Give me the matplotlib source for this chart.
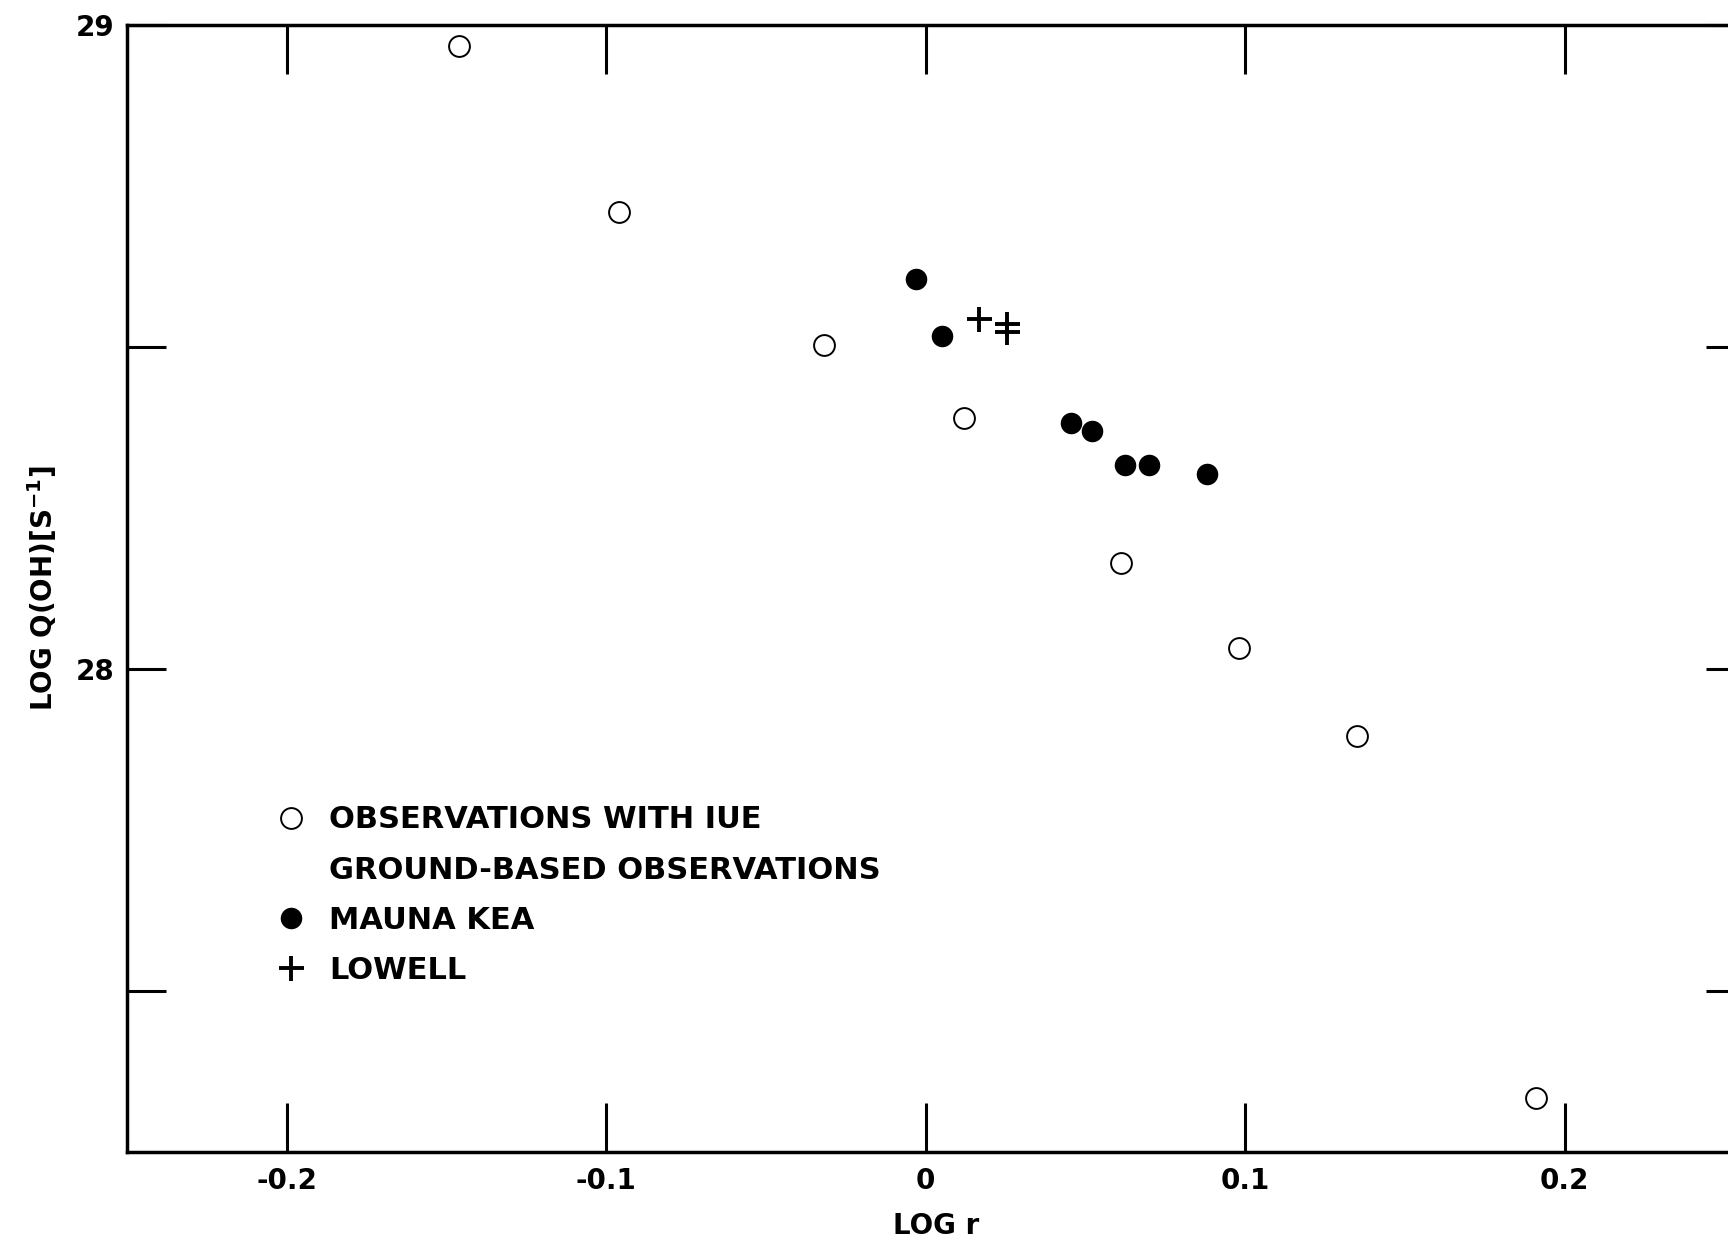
import matplotlib
matplotlib.use("Agg")

import matplotlib.pyplot as plt
from matplotlib.lines import Line2D

# log r vs log Q(OH)
iue_logr = [-0.146, -0.096, -0.032, 0.012, 0.061, 0.098, 0.135, 0.191]
iue_logq = [28.968, 28.709, 28.503, 28.390, 28.164, 28.033, 27.896, 27.334]

mk_logr = [-0.003, 0.005, 0.0455, 0.052, 0.0625, 0.070, 0.088]
mk_logq = [28.605, 28.517, 28.382, 28.370, 28.317, 28.317, 28.303]

lowell_logr = [0.0167, 0.0253, 0.0253]
lowell_logq = [28.544, 28.535, 28.524]

xticks = [-0.2, -0.1, 0.0, 0.1, 0.2]
xtick_labels = ["-0.2", "-0.1", "0", "0.1", "0.2"]
yticks = [27.5, 28.0, 28.5, 29.0]
ytick_labels = ["", "28", "", "29"]

legend_labels = [
    "OBSERVATIONS WITH IUE",
    "GROUND-BASED OBSERVATIONS",
    "MAUNA KEA",
    "LOWELL",
]


def main():
    plt.rcParams["font.family"] = ["DejaVu Sans"]
    plt.rcParams["font.weight"] = "bold"
    plt.rcParams["axes.labelweight"] = "bold"
    plt.rcParams["mathtext.default"] = "bf"
    plt.rcParams["axes.unicode_minus"] = False

    fig = plt.figure(figsize=(17.28, 12.4), dpi=100)
    # the right spine lies just past the edge of the scanned page
    ax = fig.add_axes([0.0735, 0.071, 0.9363, 0.9088])

    open_kw = dict(ls="none", marker="o", ms=15, mfc="white", mec="black", mew=1.4)
    fill_kw = dict(ls="none", marker="o", ms=15.5, mfc="black", mec="black", mew=0)
    plus_kw = dict(ls="none", marker="+", ms=18, mec="black", mew=2.8)

    ax.plot(iue_logr, iue_logq, **open_kw)
    ax.plot(mk_logr, mk_logq, **fill_kw)
    ax.plot(lowell_logr, lowell_logq, **plus_kw)

    ax.set_xlim(-0.25, 0.2564)
    ax.set_ylim(27.25, 29.0)
    ax.set_xticks(xticks)
    ax.set_xticklabels(xtick_labels)
    ax.set_yticks(yticks)
    ax.set_yticklabels(ytick_labels)

    for s in ax.spines.values():
        s.set_linewidth(2.5)
    ax.tick_params(direction="in", top=True, right=True, width=2.2,
                   labelsize=20, colors="black")
    ax.tick_params(axis="x", length=35, pad=11)
    ax.tick_params(axis="y", length=28, pad=9)

    ax.set_xlabel("LOG r", fontsize=20, labelpad=12)
    ax.set_ylabel(r"LOG Q(OH)$\left[\mathregular{S^{-1}}\right]$", fontsize=20, labelpad=12)

    handles = [
        Line2D([], [], **open_kw),
        Line2D([], [], ls="none"),
        Line2D([], [], **fill_kw),
        Line2D([], [], **plus_kw),
    ]
    ax.legend(handles, legend_labels, loc="upper left", bbox_to_anchor=(0.092, 0.3075),
              frameon=False, prop={"size": 22, "weight": "bold"},
              handlelength=1.0, handletextpad=0.75,
              labelspacing=0.69, borderpad=0, borderaxespad=0)

    fig.savefig("out.png", dpi=100)
    plt.close(fig)


if __name__ == "__main__":
    main()
